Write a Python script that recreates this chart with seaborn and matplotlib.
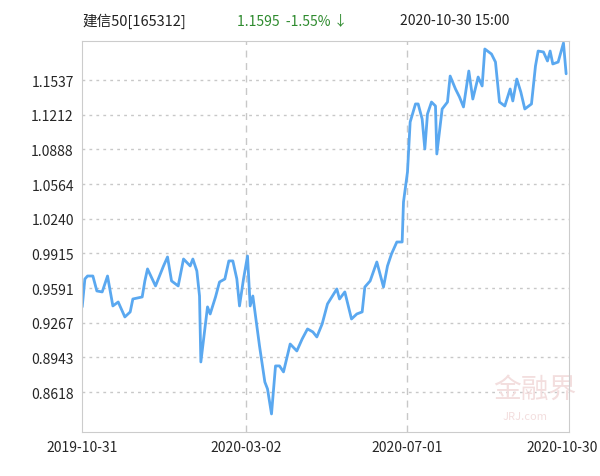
import matplotlib
matplotlib.use("Agg")
import seaborn as sns
import pandas as pd
from matplotlib import pyplot as plt
from matplotlib.transforms import ScaledTranslation

# days since 2019-10-31 and NAV
days = [0, 2, 4, 8, 11, 15, 19, 23, 27, 32, 36, 38, 45, 47, 49, 55, 61, 64, 67, 72,
        76, 81, 83, 86, 88, 89, 94, 96, 100, 103, 107, 110, 113, 116, 118, 121, 124, 126, 128, 133,
        137, 139, 142, 145, 148, 151, 156, 161, 165, 169, 173, 176, 180, 184, 191, 193, 197, 202, 206, 210,
        212, 216, 221, 226, 229, 232, 236, 240, 241, 244, 246, 250, 252, 255, 257, 259, 262, 265, 266, 270,
        274, 276, 280, 283, 286, 290, 293, 297, 300, 302, 307, 310, 313, 317, 321, 323, 326, 329, 332, 337,
        340, 342, 346, 349, 351, 353, 357, 361, 363]
nav = [0.9415, 0.9676, 0.9704, 0.9704, 0.9564, 0.9555, 0.9704, 0.9424, 0.9461, 0.9321, 0.9368, 0.9489,
       0.9508, 0.9658, 0.9770, 0.9611, 0.9798, 0.9882, 0.9658, 0.9611, 0.9863, 0.9798, 0.9863, 0.9751,
       0.9517, 0.8900, 0.9415, 0.9349, 0.9508, 0.9648, 0.9676, 0.9845, 0.9845, 0.9676, 0.9424, 0.9676,
       0.9891, 0.9424, 0.9517, 0.9050, 0.8713, 0.8648, 0.8414, 0.8863, 0.8863, 0.8807, 0.9068, 0.9003,
       0.9115, 0.9209, 0.9181, 0.9134, 0.9256, 0.9443, 0.9583, 0.9489, 0.9555, 0.9302, 0.9349, 0.9368,
       0.9601, 0.9658, 0.9835, 0.9601, 0.9798, 0.9910, 1.0022, 1.0022, 1.0396, 1.0677, 1.1144, 1.1313,
       1.1313, 1.1172, 1.0892, 1.1219, 1.1331, 1.1294, 1.0845, 1.1266, 1.1331, 1.1574, 1.1453, 1.1378,
       1.1285, 1.1621, 1.1359, 1.1565, 1.1481, 1.1827, 1.1780, 1.1705, 1.1331, 1.1294, 1.1453, 1.1341,
       1.1546, 1.1425, 1.1266, 1.1313, 1.1668, 1.1808, 1.1799, 1.1715, 1.1808, 1.1687, 1.1705, 1.1883,
       1.1595]
yticks = [0.8618, 0.8943, 0.9267, 0.9591, 0.9915, 1.0240, 1.0564, 1.0888, 1.1212, 1.1537]
xtick_days = [0, 123, 244, 365]
xtick_labels = ["2019-10-31", "2020-03-02", "2020-07-01", "2020-10-30"]

df = pd.DataFrame({"day": days, "nav": nav})

sns.set_style("white")
plt.rcParams["font.family"] = ["Noto Sans CJK SC", "DejaVu Sans"]

fig = plt.figure(figsize=(6, 4.77), dpi=100)
ax = fig.add_axes([0.137, 0.092, 0.811, 0.82])
sns.lineplot(data=df, x="day", y="nav", ax=ax, color="#5aa8f0", linewidth=2)

ax.set_xlim(0, 365)
ax.set_ylim(0.8244, 1.1902)
ax.set_yticks(yticks)
ax.set_yticklabels([f"{t:.4f}" for t in yticks], fontsize=10)
ax.set_xticks(xtick_days)
ax.set_xticklabels(xtick_labels, fontsize=10)
ax.set_xlabel("")
ax.set_ylabel("")
ax.tick_params(length=0, pad=6)
# last date label sits right of the axis end, as in the reference
last = ax.get_xticklabels()[-1]
last.set_ha("right")
last.set_transform(last.get_transform() + ScaledTranslation(0.29, 0, fig.dpi_scale_trans))
for t in yticks:
    ax.axhline(t, color="#c8c8c8", linestyle=(0, (2, 3)), linewidth=1, zorder=0)
for d in xtick_days[1:3]:
    ax.axvline(d, color="#c8c8c8", linestyle=(0, (5, 4)), linewidth=1, zorder=0)
for s in ax.spines.values():
    s.set_color("#cccccc")

# watermark
ax.text(0.93, 0.11, "金融界", transform=ax.transAxes, fontsize=20, color="#f3dede",
        ha="center", va="center", zorder=0)
ax.text(0.91, 0.04, "JRJ.com", transform=ax.transAxes, fontsize=8, color="#f3dede",
        ha="center", va="center", style="italic", zorder=0)

# header
fig.text(0.137, 0.955, "建信50[165312]", fontsize=10.5, color="#222222", va="center")
fig.text(0.395, 0.955, "1.1595  -1.55% ↓", fontsize=10, color="#2e8b2e", va="center")
fig.text(0.667, 0.955, "2020-10-30 15:00", fontsize=10, color="#222222", va="center")

fig.savefig("out.png", dpi=100)
